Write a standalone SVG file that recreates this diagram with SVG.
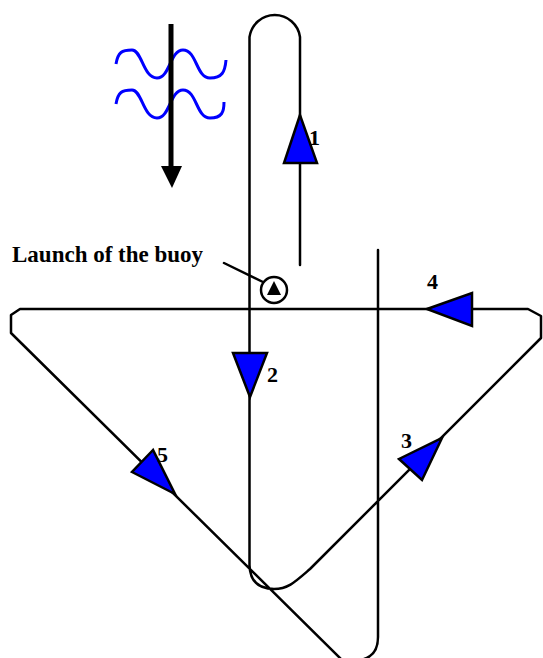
<svg xmlns="http://www.w3.org/2000/svg" width="543" height="658" viewBox="0 0 543 658">
<style>
.trk{fill:none;stroke:#000;stroke-width:2.5;stroke-linejoin:round;stroke-linecap:round}
.tri{fill:#0000FF;stroke:#000;stroke-width:2.5;stroke-linejoin:miter}
.wave{fill:none;stroke:#0000FF;stroke-width:3;stroke-linejoin:round}
.lbl{font-family:"Liberation Serif","Times New Roman",serif;font-weight:bold;fill:#000}
</style>
<rect width="543" height="658" fill="#fff"/>
<g id="current">
  <path class="wave" d="M116,64 C118,52 122,50 132,50 C142,50 143,78 157,78 C170,78 170,50 183,50 C197,50 196,78 210,78 C222,78 225,72 226,60"/>
  <path class="wave" transform="translate(0,40)" d="M116,64 C118,52 122,50 132,50 C142,50 143,78 157,78 C170,78 170,50 183,50 C197,50 196,78 210,78 C222,78 224,72 224,62"/>
  <line x1="171" y1="24" x2="171" y2="170" stroke="#000" stroke-width="5"/>
  <polygon points="161,166 182,166 172,188" fill="#000"/>
</g>
<g id="connectors">
  <path class="trk" d="M300,265 V37 A25.5,25.5 0 0 0 249.5,37 V565 C250,584 261,589 274,589 C288,589 295,582 310,569 L541,338 L541,316 L528,309 L20,309 L11,315 L11,333 L342,660 L360,660 Q378,657 378,637 V250"/>
  <line class="trk" x1="224" y1="263" x2="265" y2="283"/>
</g>
<g id="buoy">
  <circle cx="274" cy="290" r="13" fill="#fff" stroke="#000" stroke-width="2.5"/>
  <polygon points="267,295 281,295 274,281" fill="#000"/>
</g>
<g id="launch-label">
  <text class="lbl" x="12" y="262" font-size="23">Launch of the buoy</text>
</g>
<g id="leg1">
  <polygon class="tri" points="300,115 284,163 317,163"/>
  <text class="lbl" x="309" y="145" font-size="22">1</text>
</g>
<g id="leg2">
  <polygon class="tri" points="233,353 267,353 250,397"/>
  <text class="lbl" x="267" y="382" font-size="22">2</text>
</g>
<g id="leg3">
  <polygon class="tri" points="399,459 422,480 442,438"/>
  <text class="lbl" x="401" y="448" font-size="22">3</text>
</g>
<g id="leg4">
  <polygon class="tri" points="427,309 472,293 472,326"/>
  <text class="lbl" x="427" y="289" font-size="22">4</text>
</g>
<g id="leg5">
  <polygon class="tri" points="153,450 132,472 175,494"/>
  <text class="lbl" x="157" y="462" font-size="22">5</text>
</g>
</svg>
